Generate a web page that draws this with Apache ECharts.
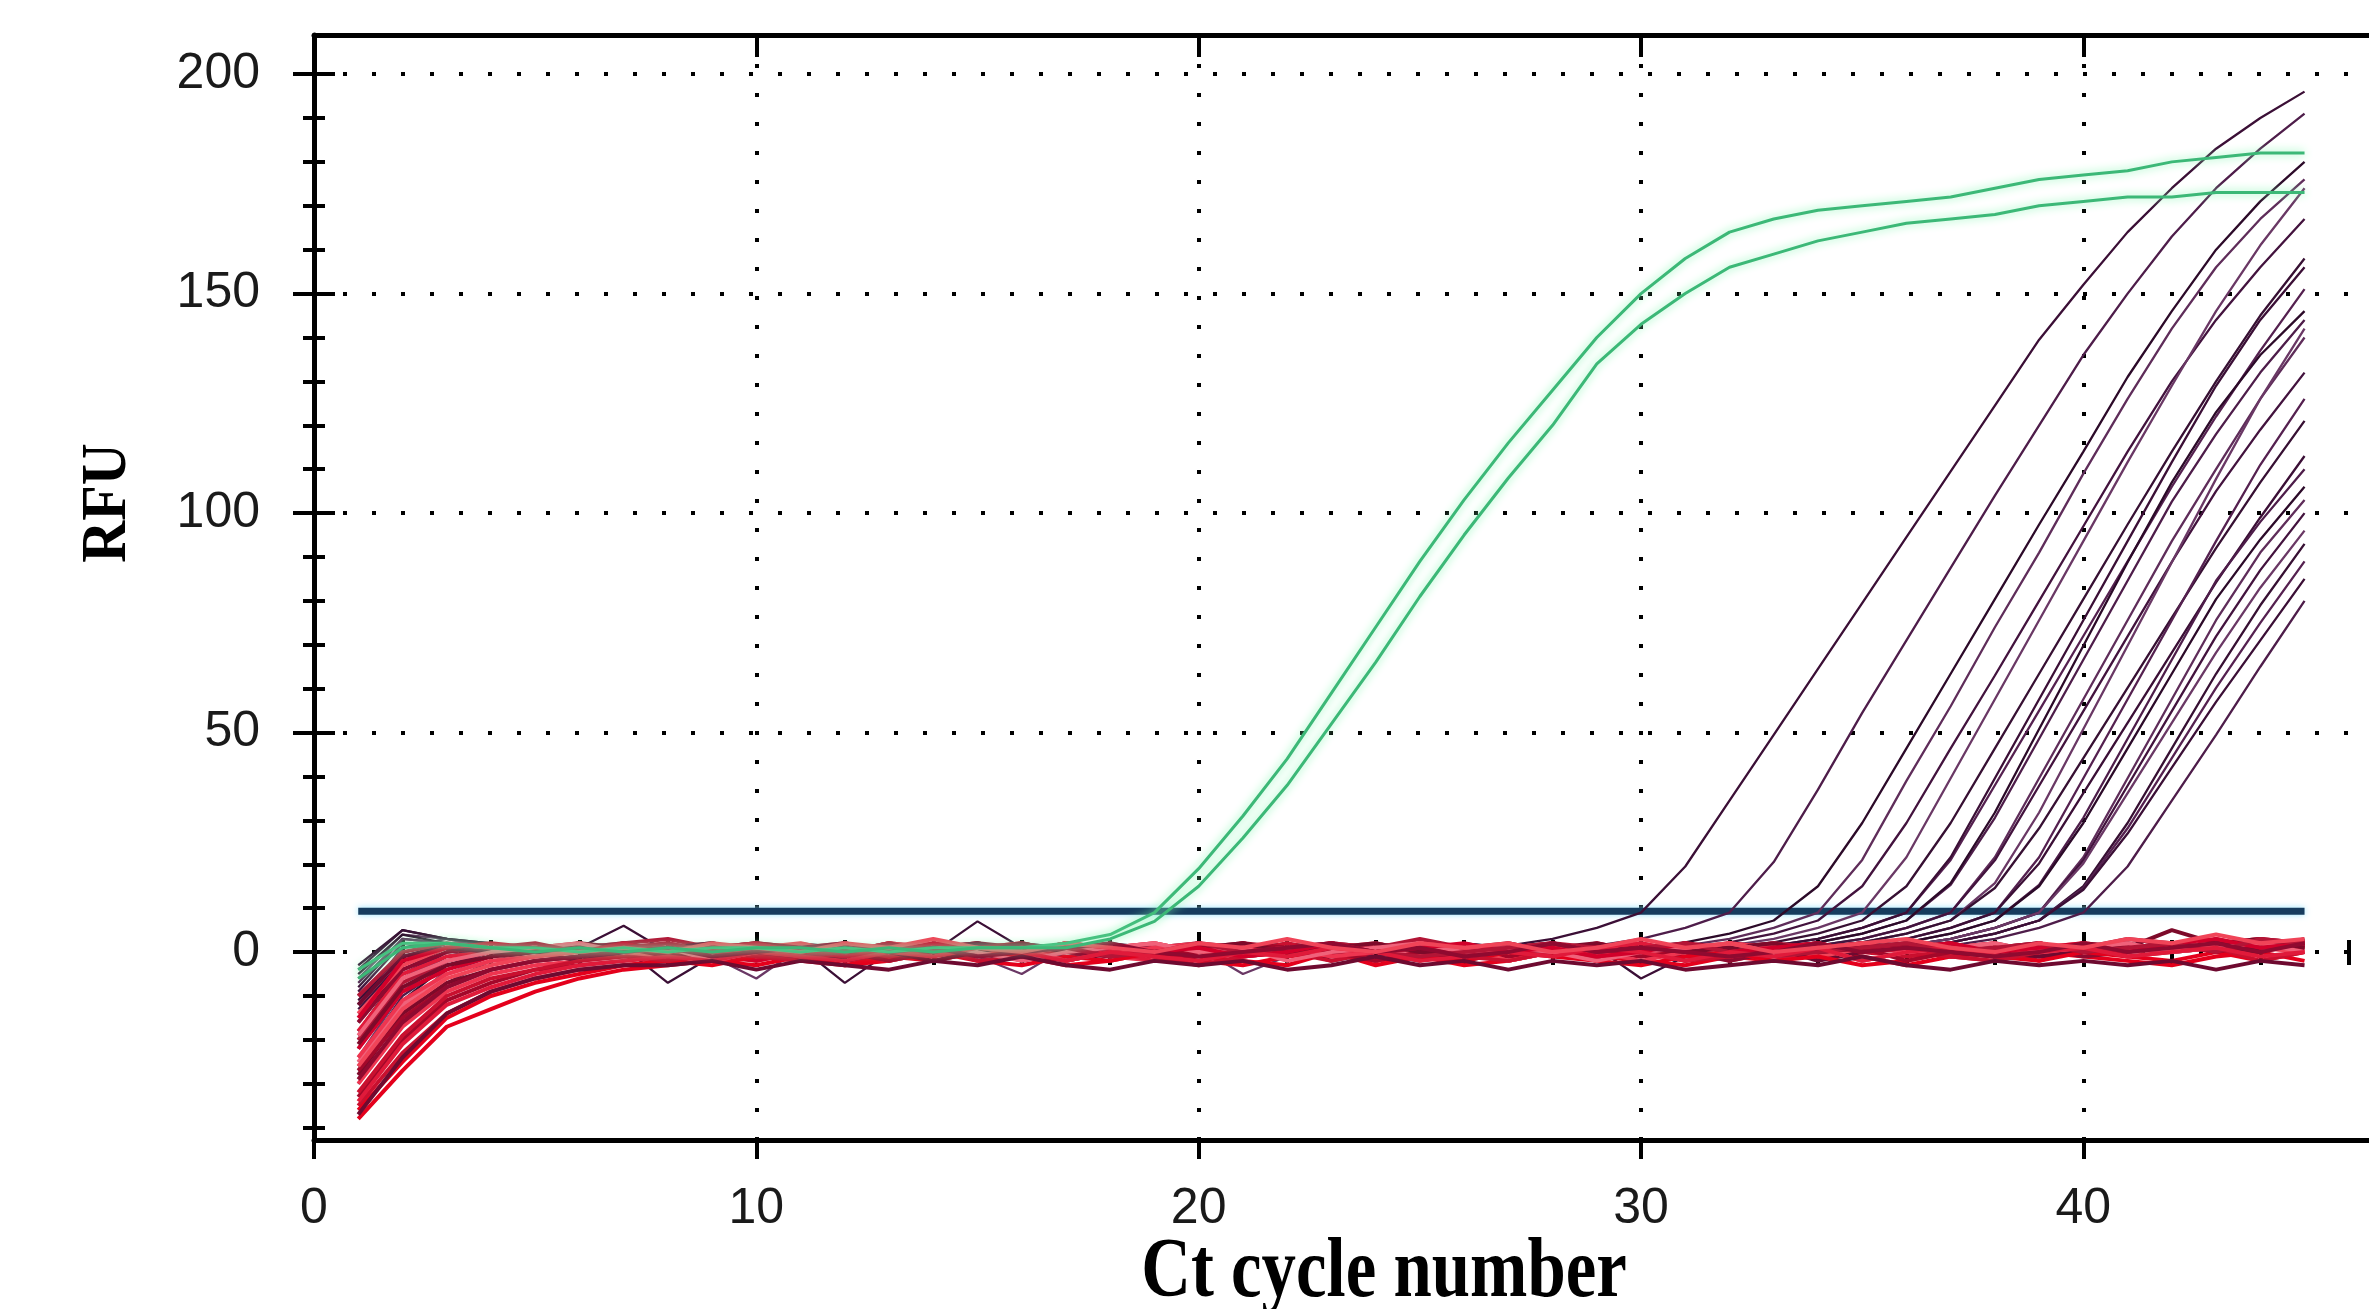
<!DOCTYPE html>
<html><head><meta charset="utf-8">
<script src="https://cdn.jsdelivr.net/npm/echarts@6.0.0/dist/echarts.min.js"></script>
<style>html,body{margin:0;padding:0;background:#fff;}#c{width:2369px;height:1309px;}</style>
</head><body><div id="c"></div>
<script>
// ---------- data ----------
const cycles = [1,2,3,4,5,6,7,8,9,10,11,12,13,14,15,16,17,18,19,20,21,22,23,24,25,26,27,28,29,30,31,32,33,34,35,36,37,38,39,40,41,42,43,44,45];
const xMajorTicks = [0,10,20,30,40];
const xMinorTicks = [2,4,6,8,12,14,16,18,22,24,26,28,32,34,36,38,42,44,46];
const yMajorTicks = [0,50,100,150,200];
const yMinorTicks = [-40,-30,-20,-10,10,20,30,40,60,70,80,90,110,120,130,140,160,170,180,190];
const thresholdRFU = 9.3;
const thresholdCycles = [1,45];

// positive control (green)
const gA = [-4,2,2,1,1,0,1,0,1,1,0,1,0,1,1,1,2,4,9,19,31,44,59,74,89,103,116,128,140,150,158,164,167,169,170,171,172,174,176,177,178,180,181,182,182];
const gB = [-6,1,2,1,0,1,0,1,0,1,1,0,1,0,1,1,1,3,7,15,26,38,52,66,81,95,108,120,134,143,150,156,159,162,164,166,167,168,170,171,172,172,173,173,173];

// amplified samples (purple)
const p01 = [-8,3,2,1,1,0,1,0,2,1,0,1,1,0,2,1,0,1,0,1,2,1,0,1,1,0,1.5,3,5.5,9,19.5,34.5,49.5,64.5,79.5,94.5,109.5,124.5,139.5,152,164,174,183,190,196];
const p02 = [-12,1,3,1,0,1,0,1,2,0,1,-1,0,1,1,0,2,1,0,1,0,-1,1,0,1,2,1,0,1.5,3,5.5,9,20.5,37,54.5,71,87.5,104,120,136,150,163,174,183,191];
const p03 = [-18,-4,1,2,1,0,1,1,0,-1,1,0,2,1,0,1,0,1,1,-1,0,1,0,2,1,0,1,0,1,1,2.2,4.2,7.2,15,29.4,46.4,63.4,80.4,97.4,114,131,146,160,171,180];
const p04 = [-6,4,3,1,1,1,0,2,1,0,1,1,-1,0,1,0,1,2,0,1,0,1,1,0,-1,1,0,1,0,1,1.5,3,5.5,9,21,39,56,74,91,109,126,142,156,167,176];
const p05 = [-22,-7,-1,1,0,1,0,1,-1,0,1,0,1,2,0,1,-1,0,1,0,1,1,0,2,1,0,1,-1,0,1,1,2.2,4.2,7.2,15,29.4,46.4,63,80,97,114,130,144,156,167];
const p06 = [-14,-2,2,1,1,0,1,0,1,1,-1,0,1,2,1,0,1,0,-1,1,0,1,1,0,1,2,0,1,0,1,0,1.5,3,5.5,9,21.6,39.6,57.6,75.6,93.6,111.6,129,146,161,174];
const p07 = [-26,-11,-3,0,1,1,0,-1,0,1,0,1,1,0,-1,0,1,0,1,2,0,1,0,-1,1,0,1,0,1,0,1,1,2.2,4.2,7.2,15,29.4,46.4,63.4,80.4,97.4,114,130,145,158];
const p08 = [-10,0,2,2,1,0,1,1,0,1,0,-1,1,0,1,2,1,0,1,0,1,-1,0,1,1,0,1,0,2,1,0,1,1.5,3,5.5,9,21,38,55,72,89,106,122,137,151];
const p09 = [-4,5,3,2,1,1,6,0,1,1,0,2,1,0,7,1,0,1,2,0,1,0,1,1,0,1,-1,0,1,1,0,1,1.5,3,5.5,9,21.6,39.6,57.6,75.6,93.6,111.6,129,144,156];
const p10 = [-20,-6,0,1,0,1,0,-1,1,0,1,0,-2,0,1,0,1,0,-1,0,1,1,0,1,0,-1,0,1,0,1,0,1,1,2.2,4.2,7.2,15.3,30.6,48.6,66.6,84.6,102.6,118,132,144];
const p11 = [-16,-3,1,1,0,0,1,0,1,-1,0,1,1,0,1,0,2,1,0,-1,1,0,1,0,1,1,0,-1,1,0,1,0,1,2.2,4.2,7.2,15.7,31.8,50.8,69.8,88.8,107,123,136,146];
const p12 = [-28,-14,-5,-1,0,1,0,0,1,-1,0,1,0,1,1,0,-1,0,1,0,1,2,0,1,0,1,-1,0,1,0,1,0,1,1.5,3,5.5,9,21.6,39.6,57.6,75.6,93.6,110,126,140];
const p13 = [-9,2,2,1,1,0,1,1,0,2,1,0,1,0,1,1,0,1,-1,0,1,1,0,1,0,2,1,0,1,0,1,1,0,1.5,3,5.5,9,20.9,37.9,54.9,71.9,88.9,105,119,132];
const p14 = [-24,-9,-2,0,1,0,-1,1,0,1,0,1,-1,0,1,0,1,1,0,-1,0,1,0,1,0,1,1,0,-1,1,0,1,0,1,2.2,4.2,7.2,15.7,31.8,50.8,69.8,88.8,107.8,126,142];
const p15 = [-12,-1,2,1,0,1,0,1,1,0,-1,0,1,0,2,1,0,1,0,1,-1,0,1,1,0,1,0,1,1,0,1,0,1,1,2.2,4.2,7.2,14.6,28.2,44.2,60.2,76.2,92,107,121];
const p16 = [-7,3,2,1,0,1,0,1,0,-1,1,0,1,1,0,2,1,0,-1,0,1,0,1,1,0,1,-1,0,1,0,1,1,0,1,1.5,3,5.5,9,21.6,39.6,57.6,75.6,93.6,111,126];
const p17 = [-30,-17,-7,-2,0,0,1,-7,-1,0,1,-7,0,1,0,1,0,-2,0,1,0,1,1,0,-1,0,1,0,1,-6,-1,0,1,0,1.5,3,5.5,9,20.2,36.2,52.2,68.2,84.2,99,113];
const p18 = [-18,-5,0,1,1,0,1,1,0,-1,0,1,0,1,2,0,1,0,1,-1,0,1,1,0,1,0,2,1,0,1,0,-1,1,0,1,2.2,4.2,7.2,15.3,30.6,48.6,66.6,84.6,98,110];
const p19 = [-5,4,2,1,1,1,0,1,2,0,1,0,1,1,0,-1,1,0,1,0,1,2,1,0,1,0,1,0,1,1,0,1,0,1,1,2.2,4.2,7.2,15,29.4,46.4,63.4,80.4,94,106];
const p20 = [-22,-8,-2,0,0,1,0,-1,0,1,0,1,0,-1,1,0,1,0,2,0,1,0,-1,0,1,0,1,1,0,-1,1,0,1,0,1,1.5,3,5.5,9,21.6,39.6,57.6,75.6,91,103];
const p21 = [-13,-2,1,1,0,0,1,0,1,1,0,-1,0,1,0,1,1,0,1,-1,0,1,0,2,1,0,1,0,-1,0,1,1,0,1,0,1.5,3,5.5,9,20.9,37.9,54.9,71.9,87,100];
const p22 = [-27,-13,-4,-1,0,1,0,1,-1,-6,1,0,1,0,-1,-5,1,1,0,1,-5,-1,0,1,0,1,0,1,-1,0,1,0,1,0,1,1.5,3,5.5,9,20.2,36.2,52.2,68.2,83,96];
const p23 = [-3,5,3,2,1,1,0,1,1,0,2,1,0,1,0,1,1,-1,0,1,0,1,2,0,1,0,1,1,0,1,0,-1,1,0,1,1,2.2,4.2,7.2,15,29.4,46.4,63.4,79,93];
const p24 = [-19,-6,-1,1,0,0,1,0,-1,1,0,1,0,1,-2,0,1,0,1,0,1,1,0,-1,0,1,0,1,0,1,0,1,-1,0,1,1,2.2,4.2,7.2,14.6,28.2,44.2,60.2,75,89];
const p25 = [-11,0,2,1,1,1,0,1,0,1,1,0,-1,0,1,0,1,2,1,0,1,0,1,0,-1,1,0,1,1,0,1,0,1,0,1,1,2.2,4.2,7.2,14.2,27,42,57,71,85];
const p26 = [-25,-10,-3,0,1,0,1,0,-1,0,1,0,1,-1,0,1,0,1,1,0,-1,0,1,0,2,0,1,0,-1,1,0,1,0,1,0,1,1.5,3,5.5,9,19.5,34.5,49.5,65,80];

// non-amplified samples (red)
const r01 = [-38,-27,-17,-13,-9,-6,-4,-3,-2,-3,-1,-3,-2,0,-2,-3,-1,-2,0,-2,-3,-1,0,-2,-1,-3,-2,0,-1,-2,-3,-1,-2,0,-1,-3,-1,-2,0,-1,-2,-3,-1,0,-2];
const r02 = [-35,-23,-14,-9,-6,-4,-3,-2,-1,-2,0,-2,-1,1,2,0,-2,0,-1,1,0,2,0,-2,0,1,-1,0,2,0,-2,0,1,2,0,-1,0,1,-2,1,0,1,2,0,2];
const r03 = [-33,-20,-11,-7,-4,-3,-2,-1,1,-1,0,2,0,1,-1,0,2,1,0,-2,0,1,2,0,1,0,-1,1,0,2,0,1,0,-1,1,2,0,1,2,0,1,0,2,3,1];
const r04 = [-30,-17,-9,-5,-3,-2,-1,0,-2,0,1,0,-2,0,1,2,0,-1,-2,0,2,0,1,-2,0,1,0,1,-2,0,1,-2,0,2,0,1,-1,0,2,0,1,2,0,1,0];
const r05 = [-28,-14,-7,-4,-2,-1,0,1,2,0,-1,0,2,0,1,-2,0,1,0,1,-1,0,2,1,0,-2,0,1,2,0,-1,0,1,2,0,1,0,-1,0,1,2,0,1,0,3];
const r06 = [-25,-12,-5,-2,-1,1,2,0,1,2,0,-1,1,2,1,0,1,-1,0,2,0,1,0,1,-1,0,2,0,1,0,1,-1,2,0,1,2,0,1,-1,2,1,2,1,3,2];
const r07 = [-22,-9,-4,-1,0,2,0,1,0,-2,0,1,0,1,2,-1,0,1,2,0,1,0,-1,0,2,0,1,2,0,-1,0,2,0,1,2,0,-1,0,2,0,1,0,3,1,2];
const r08 = [-20,-7,-2,0,1,0,2,3,1,2,1,0,2,1,-1,0,2,1,0,2,1,0,2,1,3,1,0,2,1,0,2,1,2,1,0,2,1,2,0,1,3,2,1,3,2];
const r09 = [-18,-5,-1,0,1,2,0,-2,0,1,0,1,-2,1,0,0,2,0,-2,0,1,0,1,-2,0,1,-2,0,1,2,0,0,-2,0,1,0,1,2,-1,0,1,2,0,1,2];
const r10 = [-16,-4,0,1,0,1,2,0,1,0,-2,0,1,0,2,1,0,-1,0,1,2,0,1,0,-2,0,1,2,0,1,0,-2,0,1,2,0,1,0,1,-1,0,2,1,2,1];
const r11 = [-14,-3,1,1,0,2,0,-1,0,1,2,0,1,-2,0,1,0,1,2,0,-1,0,1,2,0,1,-2,0,1,0,1,0,2,-1,0,1,2,0,1,2,0,1,2,1,0];
const r12 = [-12,-1,1,0,0,-2,0,1,2,0,1,-2,0,1,2,0,-2,0,1,2,0,1,-2,0,1,0,1,0,-2,0,2,0,1,-2,0,1,2,0,-1,0,1,2,0,1,2];
const r13 = [-36,-25,-15,-10,-7,-5,-3,-2,-3,-1,-2,-3,-1,-2,0,-1,-3,-2,0,-1,-2,-3,0,-3,-1,-2,0,-1,-2,-3,-1,0,-2,-1,-3,-2,0,-1,-2,0,-1,-2,0,-2,0];
const r14 = [-32,-19,-10,-6,-4,-2,-1,-2,0,-1,-2,0,-1,1,-2,-1,0,1,-1,-3,-1,0,-2,0,1,-1,-2,0,-1,1,-2,-1,0,1,-2,0,-1,-2,0,1,-1,0,1,-2,0];
const r15 = [-27,-15,-8,-4,-2,-1,1,-1,0,2,1,0,-2,0,1,2,0,1,-1,0,2,1,0,-2,0,1,2,0,1,-1,0,2,1,0,1,-2,0,1,2,0,1,2,0,2,1];
const r16 = [-24,-11,-5,-2,-1,0,1,2,0,1,-1,0,2,1,0,1,-2,0,1,2,0,1,-1,0,2,1,0,1,0,-2,0,2,1,0,2,0,1,-1,0,2,1,0,2,3,1];
const r17 = [-21,-8,-3,-1,0,2,1,0,1,2,0,1,0,-2,0,2,0,1,0,1,2,0,1,2,0,-1,0,2,0,1,0,1,2,0,1,2,0,-1,0,2,1,5,2,3,1];
const r18 = [-19,-6,-2,0,1,2,0,1,-2,0,1,2,0,1,0,-2,0,1,2,0,1,-2,0,1,2,0,1,0,-2,0,1,2,0,1,-2,0,1,2,0,1,2,0,1,2,0];
const r19 = [-15,-2,1,2,1,0,2,0,1,2,0,-1,0,2,1,0,2,1,0,1,-1,0,2,0,1,2,0,1,-1,0,2,0,1,2,0,1,2,0,1,2,0,2,3,1,2];
const r20 = [-10,0,2,1,2,0,1,2,0,1,-1,0,2,0,1,0,1,-1,0,2,0,1,2,0,-1,0,1,2,0,1,2,0,-1,0,1,2,0,1,2,0,1,2,0,3,2];
const r21 = [-34,-21,-12,-8,-5,-3,-2,-1,-2,0,-1,-2,0,-1,1,0,-2,0,-1,-2,0,-1,1,0,-2,-1,0,-1,1,0,-2,0,-1,1,-2,0,1,-1,0,1,-1,0,1,-1,0];
const r22 = [-29,-16,-8,-4,-2,-1,0,1,-1,0,1,2,0,1,-1,0,1,2,0,-1,0,1,2,0,1,-1,0,2,0,1,0,-1,0,2,0,1,0,-1,0,2,0,1,2,0,2];
const r23 = [-26,-13,-6,-3,-1,0,1,0,2,1,0,2,1,3,1,0,2,1,0,2,1,3,1,0,2,1,2,0,1,3,1,2,0,1,2,3,1,0,2,1,3,2,4,2,3];
const r24 = [-37,-24,-14,-9,-6,-4,-3,-3,-2,-4,-2,-3,-4,-2,-3,-1,-3,-4,-2,-3,-2,-4,-3,-1,-3,-2,-4,-2,-3,-2,-4,-3,-2,-3,-1,-3,-4,-2,-3,-2,-3,-2,-4,-2,-3];

const purpleSet = [p01,p02,p03,p04,p05,p06,p07,p08,p09,p10,p11,p12,p13,p14,p15,p16,p17,p18,p19,p20,p21,p22,p23,p24,p25,p26];
const redSet = [r01,r02,r03,r04,r05,r06,r07,r08,r09,r10,r11,r12,r13,r14,r15,r16,r17,r18,r19,r20,r21,r22,r23,r24];

// ---------- styles ----------
const purpleColors = ['#3b0f36','#4e1d4a','#2c0a29','#5f2d5a','#43133e','#6a3865','#371033','#552150'];
const redColors = ['#e4001c','#c9102f','#a3082a','#ee3550','#7d0a2a','#f0627a','#d2002a','#b31536','#e01a3a','#8f0a30','#f04458','#6e0a30'];

function pairs(vals){ return vals.map((v,i)=>[cycles[i], v]); }

const series = [];
series.push({
  type:'line', name:'threshold', data: thresholdCycles.map(c=>[c, thresholdRFU]),
  showSymbol:false, symbol:'none', silent:true, z:2,
  lineStyle:{color:'#163c5e', width:7, shadowColor:'rgba(140,225,255,0.9)', shadowBlur:6}
});
purpleSet.forEach((arr,i)=>series.push({
  type:'line', data:pairs(arr), showSymbol:false, symbol:'none', silent:true, z:3,
  lineStyle:{color:purpleColors[i%purpleColors.length], width:2.3}
}));
redSet.forEach((arr,i)=>series.push({
  type:'line', data:pairs(arr), showSymbol:false, symbol:'none', silent:true, z:4,
  lineStyle:{color:redColors[i%redColors.length], width:4}
}));
[gA,gB].forEach(arr=>series.push({
  type:'line', data:pairs(arr), showSymbol:false, symbol:'none', silent:true, z:5,
  lineStyle:{color:'#3cb877', width:3, shadowColor:'rgba(130,245,175,1)', shadowBlur:10}
}));

const X_MIN = 0, X_MAX = 47, Y_MIN = -42.8, Y_MAX = 208.9;
const blank = {axisLine:{show:false}, axisTick:{show:false}, axisLabel:{show:false}, splitLine:{show:false}, minorTick:{show:false}, minorSplitLine:{show:false}};
function xa(extra){ return Object.assign({type:'value', min:X_MIN, max:X_MAX}, JSON.parse(JSON.stringify(blank)), extra); }
function ya(extra){ return Object.assign({type:'value', min:Y_MIN, max:Y_MAX}, JSON.parse(JSON.stringify(blank)), extra); }
const tickStyle = {color:'#000', width:4};

const option = {
  backgroundColor:'#ffffff',
  animation:false,
  grid:{left:314, top:35, right:-24, bottom:169, containLabel:false, outerBoundsMode:'none'},
  xAxis:[
    xa({position:'bottom',
        axisLine:{show:true, onZero:false, lineStyle:{color:'#000', width:5}},
        axisTick:{show:true, inside:false, length:19, customValues:xMajorTicks, lineStyle:tickStyle},
        axisLabel:{show:true, customValues:xMajorTicks, margin:44, fontSize:50, fontFamily:'"Liberation Sans", Arial, sans-serif', color:'#1a1a1a'},
        splitLine:{show:true, lineStyle:{color:'#000', width:4, type:[4,25]}}}),
    xa({position:'bottom', axisTick:{show:true, inside:true, length:20, customValues:xMajorTicks, lineStyle:tickStyle}}),
    xa({position:'bottom', axisTick:{show:true, inside:false, length:12, customValues:xMinorTicks, lineStyle:tickStyle}}),
    xa({position:'bottom', axisTick:{show:true, inside:true, length:12, customValues:xMinorTicks, lineStyle:tickStyle}}),
    xa({position:'top',
        axisLine:{show:true, onZero:false, lineStyle:{color:'#000', width:5}},
        axisTick:{show:true, inside:true, length:22, customValues:xMajorTicks, lineStyle:tickStyle}}),
    xa({position:'top', axisTick:{show:true, inside:true, length:13, customValues:xMinorTicks, lineStyle:tickStyle}})
  ],
  yAxis:[
    ya({position:'left',
        axisLine:{show:true, onZero:false, lineStyle:{color:'#000', width:5}},
        axisTick:{show:true, inside:false, length:21, customValues:yMajorTicks, lineStyle:tickStyle},
        axisLabel:{show:true, customValues:yMajorTicks, margin:54, fontSize:50, fontFamily:'"Liberation Sans", Arial, sans-serif', color:'#1a1a1a'},
        splitLine:{show:true, lineStyle:{color:'#000', width:4, type:[4,25]}}}),
    ya({position:'left', axisTick:{show:true, inside:true, length:21, customValues:yMajorTicks, lineStyle:tickStyle}}),
    ya({position:'left', axisTick:{show:true, inside:false, length:11, customValues:yMinorTicks, lineStyle:tickStyle}}),
    ya({position:'left', axisTick:{show:true, inside:true, length:11, customValues:yMinorTicks, lineStyle:tickStyle}})
  ],
  graphic:[
    {type:'text', x:1384, y:1274, scaleX:0.81, z:100,
     style:{text:'Ct cycle number', font:'bold 85px "Liberation Serif", "Times New Roman", serif', fill:'#000',
            align:'center', verticalAlign:'middle', textAlign:'center', textVerticalAlign:'middle'}},
    {type:'text', x:108, y:503, rotation:Math.PI/2, scaleX:0.91, z:100,
     style:{text:'RFU', font:'bold 64px "Liberation Serif", "Times New Roman", serif', fill:'#000',
            align:'center', verticalAlign:'middle', textAlign:'center', textVerticalAlign:'middle'}}
  ],
  series: series.map(s=>Object.assign({xAxisIndex:0, yAxisIndex:0, animation:false}, s))
};

const chart = echarts.init(document.getElementById('c'), null, {renderer:'canvas', width:2369, height:1309});
chart.setOption(option);
</script>
</body></html>
